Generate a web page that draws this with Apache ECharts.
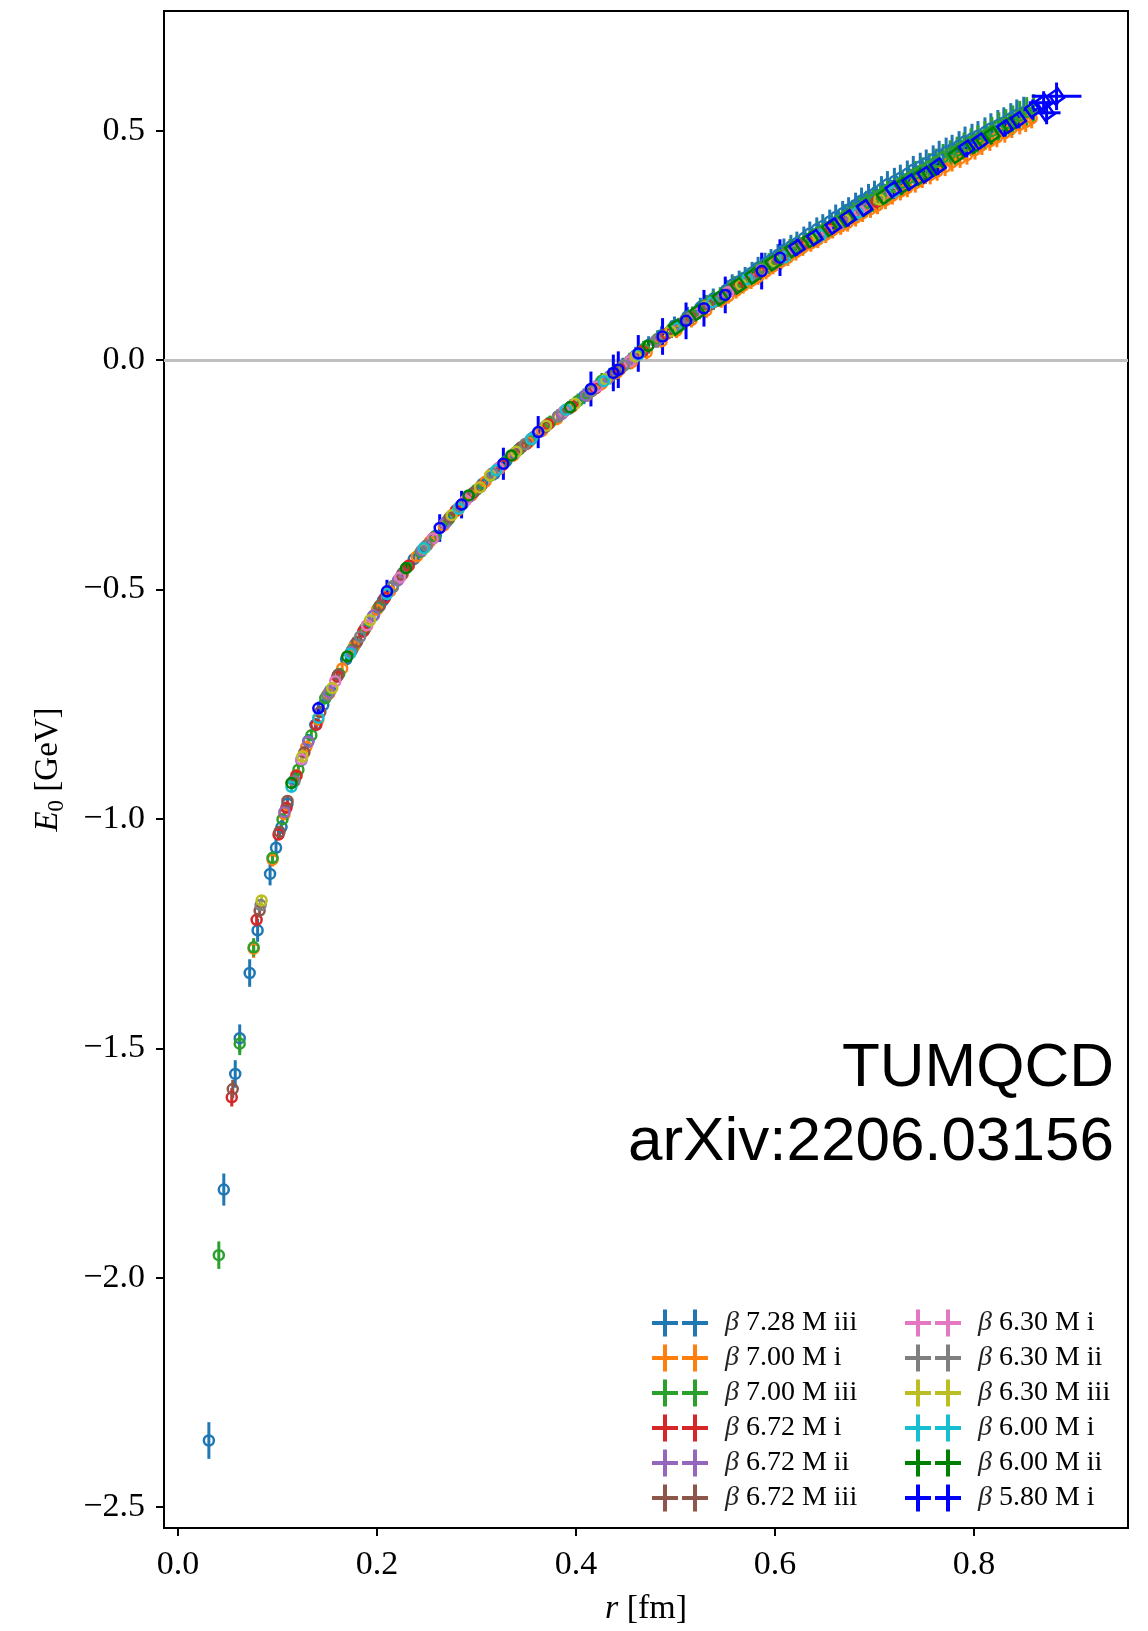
<!DOCTYPE html>
<html>
<head>
<meta charset="utf-8">
<title>E0 vs r</title>
<script src="https://cdn.jsdelivr.net/npm/echarts@6/dist/echarts.min.js"></script>
<style>
  html, body { margin: 0; padding: 0; background: #fff; }
  #chart { width: 1148px; height: 1631px; }
</style>
</head>
<body>
<div id="chart"></div>
<script>
// each point: [r (fm), E0 (GeV), error on E0]
const b728iii = [
  [0.031,-2.355,0.04],[0.046,-1.808,0.035],[0.0575,-1.556,0.03],[0.062,-1.478,0.03],[0.072,-1.336,0.03],
  [0.080,-1.243,0.025],[0.0925,-1.120,0.025],[0.0985,-1.063,0.02],[0.104,-1.018,0.015],[0.110,-0.967,0.015],
  [0.117,-0.915,0.015],[0.124,-0.872,0.015],[0.131,-0.830,0.015],[0.138,-0.795,0.015],[0.146,-0.752,0.015],
  [0.153,-0.720,0.015],[0.161,-0.686,0.015],[0.169,-0.652,0.015],[0.178,-0.620,0.012],[0.187,-0.589,0.012],
  [0.196,-0.558,0.012],[0.206,-0.524,0.012],[0.216,-0.494,0.012],[0.226,-0.464,0.012],[0.237,-0.434,0.012],
  [0.248,-0.408,0.012],[0.259,-0.383,0.012],[0.270,-0.352,0.012],[0.282,-0.324,0.012],[0.294,-0.296,0.012],
  [0.306,-0.270,0.012],[0.318,-0.248,0.014],[0.330,-0.220,0.014],[0.343,-0.194,0.014],[0.356,-0.170,0.015],
  [0.369,-0.145,0.015],[0.382,-0.123,0.016],[0.395,-0.101,0.016],[0.408,-0.079,0.017],[0.421,-0.057,0.017],
  [0.434,-0.035,0.018],[0.447,-0.013,0.018],[0.460,0.010,0.019],[0.473,0.033,0.019],[0.486,0.054,0.02],
  [0.499,0.075,0.02],[0.512,0.095,0.021],[0.525,0.115,0.021],[0.538,0.134,0.022],[0.551,0.153,0.022],
  [0.564,0.172,0.023],[0.577,0.191,0.023],[0.590,0.210,0.024],[0.603,0.229,0.024],[0.616,0.248,0.025],
  [0.629,0.266,0.025],[0.642,0.285,0.026],[0.655,0.302,0.026],[0.668,0.320,0.027],[0.681,0.338,0.027],
  [0.694,0.356,0.028],[0.707,0.373,0.028],[0.720,0.390,0.029],[0.733,0.406,0.029],[0.746,0.422,0.03],
  [0.759,0.438,0.03],[0.772,0.454,0.031],[0.785,0.468,0.031],[0.798,0.483,0.032],[0.811,0.497,0.032],
  [0.824,0.512,0.033],[0.837,0.527,0.033],[0.850,0.540,0.034],
  [0.557,0.164,0.023],[0.570,0.180,0.023],[0.583,0.201,0.024],[0.596,0.218,0.024],[0.609,0.240,0.025],
  [0.622,0.255,0.025],[0.635,0.276,0.026],[0.648,0.292,0.026],[0.661,0.312,0.027],[0.674,0.328,0.027],
  [0.687,0.348,0.028],[0.700,0.363,0.028],[0.713,0.383,0.029],[0.726,0.397,0.029],[0.739,0.415,0.03],
  [0.752,0.429,0.03],[0.765,0.447,0.031],[0.778,0.460,0.031],[0.791,0.477,0.032],[0.804,0.489,0.032],
  [0.817,0.505,0.033],[0.830,0.518,0.033],[0.843,0.534,0.034]
];
const b700i = [
  [0.076,-1.283,0.02],[0.095,-1.089,0.015],[0.107,-0.990,0.012],[0.119,-0.905,0.012],[0.129,-0.843,0.012],
  [0.141,-0.784,0.012],[0.152,-0.727,0.012],[0.165,-0.672,0.012],[0.177,-0.624,0.012],[0.190,-0.579,0.012],
  [0.200,-0.544,0.012],[0.213,-0.504,0.012],[0.226,-0.466,0.012],[0.240,-0.428,0.012],[0.253,-0.396,0.012],
  [0.267,-0.361,0.012],[0.281,-0.328,0.012],[0.295,-0.295,0.012],[0.309,-0.265,0.012],[0.323,-0.237,0.013],
  [0.337,-0.208,0.013],[0.352,-0.180,0.013],[0.366,-0.154,0.013],[0.381,-0.128,0.014],[0.396,-0.102,0.014],
  [0.411,-0.077,0.014],[0.426,-0.052,0.014],[0.441,-0.028,0.015],[0.456,-0.005,0.015],[0.471,0.017,0.015],
  [0.486,0.041,0.015],[0.501,0.064,0.016],[0.516,0.087,0.016],[0.531,0.108,0.016],[0.546,0.130,0.016],
  [0.561,0.151,0.017],[0.576,0.172,0.017],[0.591,0.193,0.017],[0.606,0.214,0.017],[0.621,0.235,0.018],
  [0.636,0.254,0.018],[0.651,0.273,0.018],[0.666,0.291,0.018],[0.681,0.310,0.019],[0.696,0.329,0.019],
  [0.711,0.348,0.019],[0.726,0.367,0.019],[0.741,0.385,0.02],[0.756,0.403,0.02],[0.771,0.421,0.02],
  [0.786,0.439,0.02],[0.801,0.458,0.021],[0.816,0.477,0.021],[0.831,0.495,0.021],[0.846,0.513,0.021],
  [0.858,0.527,0.022],
  [0.553,0.139,0.016],[0.568,0.162,0.017],[0.583,0.181,0.017],[0.598,0.204,0.017],[0.613,0.223,0.018],
  [0.628,0.245,0.018],[0.643,0.262,0.018],[0.658,0.283,0.018],[0.673,0.299,0.019],[0.688,0.320,0.019],
  [0.703,0.337,0.019],[0.718,0.358,0.019],[0.733,0.375,0.02],[0.748,0.395,0.02],[0.763,0.411,0.02],
  [0.778,0.431,0.02],[0.793,0.447,0.021],[0.808,0.468,0.021],[0.823,0.485,0.021],[0.838,0.505,0.021],
  [0.852,0.519,0.022]
];
const b700iii = [
  [0.041,-1.951,0.03],[0.062,-1.490,0.025],[0.076,-1.280,0.02],[0.095,-1.085,0.015],[0.105,-1.001,0.012],
  [0.121,-0.893,0.012],[0.134,-0.818,0.012],[0.148,-0.737,0.012],[0.162,-0.684,0.012],[0.175,-0.632,0.012],
  [0.188,-0.585,0.012],[0.202,-0.538,0.012],[0.216,-0.493,0.012],[0.230,-0.452,0.012],[0.244,-0.418,0.012],
  [0.258,-0.385,0.012],[0.272,-0.347,0.012],[0.286,-0.314,0.012],[0.300,-0.283,0.013],[0.314,-0.252,0.013],
  [0.328,-0.224,0.013],[0.342,-0.196,0.014],[0.354,-0.175,0.014],[0.374,-0.136,0.015],[0.388,-0.112,0.015],
  [0.402,-0.089,0.016],[0.412,-0.074,0.016],[0.426,-0.045,0.017],[0.440,-0.025,0.017],[0.454,-0.002,0.018],
  [0.468,0.024,0.018],[0.482,0.046,0.019],[0.496,0.067,0.019],[0.510,0.088,0.02],[0.524,0.109,0.02],
  [0.538,0.130,0.021],[0.552,0.149,0.021],[0.566,0.169,0.022],[0.580,0.190,0.022],[0.594,0.210,0.023],
  [0.608,0.229,0.023],[0.622,0.248,0.024],[0.636,0.266,0.024],[0.650,0.285,0.025],[0.664,0.303,0.025],
  [0.678,0.322,0.026],[0.692,0.343,0.026],[0.706,0.360,0.027],[0.720,0.378,0.027],[0.734,0.396,0.028],
  [0.748,0.414,0.028],[0.762,0.432,0.029],[0.776,0.450,0.029],[0.790,0.466,0.03],[0.804,0.482,0.03],
  [0.818,0.499,0.031],[0.832,0.516,0.031],[0.846,0.533,0.032],[0.860,0.548,0.032],
  [0.517,0.097,0.02],[0.531,0.121,0.021],[0.545,0.138,0.021],[0.559,0.161,0.022],[0.573,0.178,0.022],
  [0.587,0.201,0.023],[0.601,0.218,0.023],[0.615,0.240,0.024],[0.629,0.256,0.024],[0.643,0.277,0.025],
  [0.657,0.293,0.025],[0.671,0.314,0.026],[0.685,0.331,0.026],[0.699,0.350,0.027],[0.713,0.370,0.027],
  [0.727,0.386,0.028],[0.741,0.406,0.028],[0.755,0.422,0.029],[0.769,0.442,0.029],[0.783,0.457,0.03],
  [0.797,0.475,0.03],[0.811,0.490,0.031],[0.825,0.509,0.031],[0.839,0.523,0.032],[0.853,0.541,0.032]
];
const b672i = [
  [0.054,-1.607,0.02],[0.079,-1.220,0.015],[0.101,-1.034,0.012],[0.109,-0.976,0.01],[0.119,-0.906,0.01],
  [0.139,-0.795,0.01],[0.160,-0.690,0.01],[0.186,-0.592,0.01],[0.208,-0.518,0.01],[0.232,-0.448,0.01],
  [0.256,-0.389,0.01],[0.279,-0.328,0.01],[0.304,-0.276,0.01],[0.326,-0.229,0.012],[0.350,-0.183,0.012],
  [0.372,-0.140,0.012],[0.396,-0.100,0.013],[0.420,-0.061,0.013],[0.444,-0.020,0.014],[0.467,0.019,0.014],
  [0.491,0.057,0.015],[0.515,0.093,0.015],[0.538,0.126,0.016],[0.562,0.159,0.016],[0.585,0.192,0.017],
  [0.609,0.226,0.017],[0.632,0.256,0.018],[0.656,0.287,0.018],[0.679,0.316,0.019],[0.702,0.345,0.019]
];
const b672ii = [
  [0.107,-0.985,0.01],[0.131,-0.832,0.01],[0.152,-0.724,0.01],[0.174,-0.636,0.01],[0.197,-0.556,0.01],
  [0.221,-0.480,0.01],[0.245,-0.415,0.01],[0.268,-0.356,0.01],[0.292,-0.299,0.01],[0.316,-0.247,0.011],
  [0.339,-0.202,0.011],[0.363,-0.157,0.012],[0.386,-0.117,0.012],[0.410,-0.077,0.013],[0.433,-0.038,0.013],
  [0.457,0.004,0.014],[0.480,0.041,0.014],[0.504,0.077,0.015],[0.527,0.111,0.015],[0.551,0.145,0.016],
  [0.574,0.177,0.016],[0.598,0.209,0.017],[0.621,0.242,0.017],[0.645,0.272,0.018],[0.668,0.302,0.018],
  [0.692,0.331,0.019]
];
const b672iii = [
  [0.055,-1.589,0.02],[0.082,-1.200,0.015],[0.102,-1.028,0.012],[0.110,-0.961,0.01],[0.127,-0.855,0.01],
  [0.143,-0.767,0.01],[0.161,-0.686,0.01],[0.180,-0.614,0.01],[0.203,-0.535,0.01],[0.225,-0.468,0.01],
  [0.250,-0.404,0.01],[0.273,-0.343,0.01],[0.297,-0.289,0.01],[0.322,-0.236,0.011],[0.345,-0.190,0.011],
  [0.369,-0.146,0.012],[0.392,-0.107,0.012],[0.416,-0.067,0.013],[0.439,-0.027,0.013],[0.463,0.014,0.014],
  [0.486,0.050,0.014],[0.510,0.086,0.015],[0.533,0.120,0.015],[0.557,0.154,0.016],[0.580,0.187,0.016],
  [0.604,0.219,0.017],[0.627,0.251,0.017],[0.651,0.280,0.018],[0.674,0.310,0.018]
];
const b630i = [
  [0.124,-0.870,0.01],[0.158,-0.700,0.01],[0.190,-0.578,0.01],[0.223,-0.474,0.01],[0.256,-0.389,0.01],
  [0.289,-0.306,0.011],[0.322,-0.236,0.011],[0.355,-0.172,0.012],[0.388,-0.112,0.012],[0.421,-0.058,0.013],
  [0.454,-0.003,0.013],[0.487,0.051,0.014],[0.520,0.102,0.015],[0.553,0.148,0.015],[0.586,0.195,0.016],
  [0.619,0.240,0.017],[0.652,0.282,0.018],[0.685,0.325,0.019],[0.718,0.366,0.02]
];
const b630ii = [
  [0.083,-1.188,0.012],[0.117,-0.918,0.01],[0.150,-0.730,0.01],[0.183,-0.603,0.01],[0.216,-0.494,0.01],
  [0.250,-0.404,0.01],[0.283,-0.320,0.011],[0.316,-0.247,0.011],[0.349,-0.183,0.012],[0.382,-0.123,0.012],
  [0.415,-0.068,0.013],[0.448,-0.012,0.013],[0.481,0.043,0.014],[0.514,0.092,0.015],[0.547,0.138,0.015],
  [0.580,0.187,0.016],[0.613,0.233,0.017],[0.646,0.275,0.018],[0.679,0.318,0.019],[0.712,0.358,0.02]
];
const b630iii = [
  [0.084,-1.178,0.012],[0.125,-0.864,0.01],[0.155,-0.715,0.01],[0.193,-0.567,0.01],[0.247,-0.411,0.01],
  [0.275,-0.338,0.01],[0.3035,-0.277,0.011],[0.3136,-0.2515,0.011],[0.340,-0.200,0.012],[0.370,-0.143,0.012],
  [0.399,-0.095,0.013],[0.430,-0.042,0.013],[0.460,0.008,0.014],[0.495,0.063,0.014],[0.530,0.116,0.015],
  [0.566,0.165,0.016],[0.600,0.215,0.017],[0.635,0.262,0.018],[0.670,0.306,0.019],[0.705,0.350,0.02]
];
const b600i = [
  [0.114,-0.930,0.01],[0.141,-0.780,0.01],[0.173,-0.640,0.01],[0.210,-0.510,0.01],[0.247,-0.410,0.01],
  [0.282,-0.324,0.011],[0.320,-0.240,0.011],[0.355,-0.172,0.012],[0.390,-0.108,0.013],[0.428,-0.046,0.013],
  [0.463,0.012,0.014],[0.500,0.070,0.015],[0.537,0.126,0.016],[0.572,0.176,0.017],[0.610,0.224,0.018],
  [0.646,0.272,0.019],[0.683,0.321,0.02],[0.720,0.368,0.021]
];
const b600ii = [
  [0.114,-0.922,0.01],[0.170,-0.646,0.01],[0.229,-0.454,0.01],[0.292,-0.295,0.011],[0.335,-0.208,0.011],
  [0.394,-0.103,0.012],[0.4727,0.031,0.013]
];
const b600iiSq = [
  [0.501,0.072,0.014],[0.522,0.104,0.015],[0.545,0.136,0.015],[0.563,0.162,0.016],[0.578,0.183,0.016],
  [0.598,0.212,0.017],[0.618,0.241,0.017],[0.636,0.263,0.018],[0.655,0.287,0.018],[0.672,0.308,0.019],
  [0.690,0.331,0.019],[0.710,0.357,0.02],[0.728,0.380,0.02],[0.745,0.399,0.021],[0.762,0.420,0.021],
  [0.782,0.446,0.022],[0.800,0.468,0.022],[0.818,0.491,0.023],[0.836,0.513,0.023]
];
const b580i = [
  [0.141,-0.759,0.014],[0.210,-0.504,0.025],[0.263,-0.366,0.03],[0.285,-0.315,0.03],[0.327,-0.226,0.035],
  [0.362,-0.157,0.035],[0.415,-0.063,0.038],[0.4375,-0.028,0.04],[0.4425,-0.021,0.04],[0.4626,0.0145,0.04],
  [0.487,0.0515,0.04],[0.5106,0.0855,0.04],[0.5286,0.113,0.04],[0.550,0.142,0.04],[0.5866,0.194,0.04],
  [0.605,0.2233,0.04]
];
const b580iSq = [
  [0.622,0.245,0.02],[0.640,0.267,0.02],[0.6586,0.292,0.02],[0.6737,0.310,0.02],[0.690,0.332,0.02],
  [0.719,0.372,0.02],[0.7357,0.388,0.02],[0.751,0.404,0.02],[0.764,0.4225,0.02],[0.7926,0.462,0.02],
  [0.806,0.477,0.02],[0.831,0.506,0.02],[0.8445,0.524,0.02]
];
// [r, E0, dE, dr] -- last points with horizontal error bars
const b580iX = [
  [0.859,0.546,0.022,0.012],[0.870,0.561,0.025,0.015],[0.873,0.539,0.025,0.014],[0.883,0.575,0.03,0.025]
];

const seriesNames = [
  'β 7.28 M iii', 'β 7.00 M i', 'β 7.00 M iii', 'β 6.72 M i', 'β 6.72 M ii', 'β 6.72 M iii',
  'β 6.30 M i', 'β 6.30 M ii', 'β 6.30 M iii', 'β 6.00 M i', 'β 6.00 M ii', 'β 5.80 M i'
];
const seriesColors = [
  '#1f77b4', '#ff7f0e', '#2ca02c', '#d62728', '#9467bd', '#8c564b',
  '#e377c2', '#7f7f7f', '#bcbd22', '#17becf', '#008000', '#0000ff'
];
const xTicks = [0, 0.2, 0.4, 0.6, 0.8];
const yTicks = [-2.5, -2.0, -1.5, -1.0, -0.5, 0.0, 0.5];

// draw order follows the legend order; squares drawn right after their circles
const groups = [
  [0, b728iii, 'circle'], [1, b700i, 'circle'], [2, b700iii, 'circle'], [3, b672i, 'circle'],
  [4, b672ii, 'circle'], [5, b672iii, 'circle'], [6, b630i, 'circle'], [7, b630ii, 'circle'],
  [8, b630iii, 'circle'], [9, b600i, 'circle'], [10, b600ii, 'circle'], [10, b600iiSq, 'rect'],
  [11, b580i, 'circle'], [11, b580iSq, 'rect'], [11, b580iX, 'rect']
];

function errRender(color) {
  return function (params, api) {
    const x = api.value(0), y = api.value(1), dy = api.value(2), dx = api.value(3);
    const a = api.coord([x, y - dy]);
    const b = api.coord([x, y + dy]);
    const kids = [{
      type: 'line',
      shape: { x1: a[0], y1: a[1], x2: b[0], y2: b[1] },
      style: { stroke: color, lineWidth: 3 }
    }];
    if (dx > 0) {
      const c = api.coord([x - dx, y]);
      const d = api.coord([x + dx, y]);
      kids.push({
        type: 'line',
        shape: { x1: c[0], y1: c[1], x2: d[0], y2: d[1] },
        style: { stroke: color, lineWidth: 3 }
      });
    }
    return { type: 'group', children: kids };
  };
}

const series = [{
  // zero reference line
  type: 'scatter',
  data: [],
  silent: true,
  z: 1,
  markLine: {
    silent: true,
    z: 1,
    symbol: 'none',
    label: { show: false },
    lineStyle: { color: '#bfbfbf', width: 3, type: 'solid' },
    data: [{ yAxis: 0 }]
  }
}];

groups.forEach(([k, pts, sym]) => {
  const color = seriesColors[k];
  series.push({
    type: 'custom',
    name: seriesNames[k],
    dimensions: ['r', 'E', 'dE', 'dr'],
    encode: { x: 0, y: 1 },
    data: pts,
    renderItem: errRender(color),
    silent: true
  });
  series.push({
    type: 'scatter',
    name: seriesNames[k],
    data: pts.map(p => [p[0], p[1]]),
    symbol: sym,
    symbolSize: sym === 'rect' ? 11 : 10,
    symbolRotate: sym === 'rect' ? 35 : 0,
    itemStyle: { color: 'rgba(0,0,0,0)', borderColor: color, borderWidth: 2.5, opacity: 1 },
    emphasis: { disabled: true },
    silent: true
  });
});

const legendIcon = 'path://M0,11.5H26V15.5H0Z M11,0H15V27H11Z M30,11.5H56V15.5H30Z M41,0H45V27H41Z';
function makeLegend(idx, left) {
  return {
    orient: 'vertical',
    left: left,
    top: 1304,
    itemWidth: 56,
    itemHeight: 27,
    itemGap: 7,
    icon: legendIcon,
    selectedMode: false,
    data: idx.map(k => ({
      name: seriesNames[k],
      itemStyle: { color: seriesColors[k], borderWidth: 0, opacity: 1 }
    })),
    formatter: name => '{g|β}' + name.slice(1),
    textStyle: {
      fontFamily: 'Liberation Serif',
      fontSize: 28,
      lineHeight: 28,
      color: '#000',
      padding: [0, 0, 0, 12],
      rich: {
        g: { fontFamily: 'Liberation Serif', fontStyle: 'italic', fontSize: 28, lineHeight: 28, color: '#222' }
      }
    }
  };
}

const fmt = v => (v < 0 ? '\u2212' : '') + Math.abs(v).toFixed(1);

const option = {
  animation: false,
  backgroundColor: '#fff',
  grid: {
    left: 164, top: 11, right: 20, bottom: 99,
    show: true, borderColor: '#000', borderWidth: 2
  },
  xAxis: {
    type: 'value',
    min: -0.0141, max: 0.9548,
    axisLine: { show: false, onZero: false },
    splitLine: { show: false },
    axisTick: { show: true, length: 8, lineStyle: { color: '#000', width: 2 }, customValues: xTicks },
    axisLabel: {
      customValues: xTicks, formatter: fmt, margin: 20,
      fontFamily: 'Liberation Serif', fontSize: 34, color: '#000'
    },
    name: '{i|r} [fm]',
    nameLocation: 'middle',
    nameGap: 64,
    nameTextStyle: {
      fontFamily: 'Liberation Serif', fontSize: 34, color: '#000',
      rich: { i: { fontFamily: 'Liberation Serif', fontStyle: 'italic', fontSize: 34 } }
    }
  },
  yAxis: {
    type: 'value',
    min: -2.5457, max: 0.7609,
    axisLine: { show: false, onZero: false },
    splitLine: { show: false },
    axisTick: { show: true, length: 8, lineStyle: { color: '#000', width: 2 }, customValues: yTicks },
    axisLabel: {
      customValues: yTicks, formatter: fmt, margin: 19,
      fontFamily: 'Liberation Serif', fontSize: 34, color: '#000'
    },
    name: '{i|E}{s|0} [GeV]',
    nameLocation: 'middle',
    nameGap: 96,
    nameTextStyle: {
      fontFamily: 'Liberation Serif', fontSize: 33, color: '#000',
      rich: {
        i: { fontFamily: 'Liberation Serif', fontStyle: 'italic', fontSize: 33, lineHeight: 40 },
        s: { fontFamily: 'Liberation Serif', fontSize: 23, lineHeight: 30, verticalAlign: 'bottom' }
      }
    }
  },
  legend: [
    makeLegend([0, 1, 2, 3, 4, 5], 647),
    makeLegend([6, 7, 8, 9, 10, 11], 900)
  ],
  graphic: [
    {
      type: 'text', x: 1114, y: 1069, silent: true,
      style: { text: 'TUMQCD', fontFamily: 'Liberation Sans', fontSize: 62, fill: '#000', align: 'right', verticalAlign: 'middle' }
    },
    {
      type: 'text', x: 1114, y: 1143, silent: true,
      style: { text: 'arXiv:2206.03156', fontFamily: 'Liberation Sans', fontSize: 62, fill: '#000', align: 'right', verticalAlign: 'middle' }
    }
  ],
  series: series
};

const chart = echarts.init(document.getElementById('chart'), null, { renderer: 'canvas' });
chart.setOption(option);
</script>
</body>
</html>
